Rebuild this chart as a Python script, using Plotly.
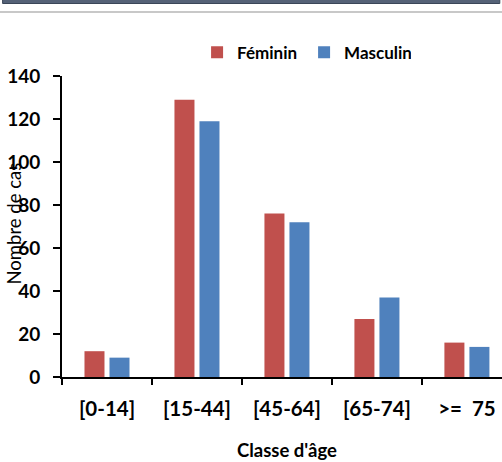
import plotly.graph_objects as go

categories = ["[0-14]", "[15-44]", "[45-64]", "[65-74]", ">=  75"]
feminin = [12, 129, 76, 27, 16]
masculin = [9, 119, 72, 37, 14]
y_ticks = [0, 20, 40, 60, 80, 100, 120, 140]

FONT = "Lato"
fig = go.Figure()
fig.add_trace(go.Bar(name="Féminin", x=categories, y=feminin,
                     marker=dict(color="#C0504D", line=dict(width=0))))
fig.add_trace(go.Bar(name="Masculin", x=categories, y=masculin,
                     marker=dict(color="#4F81BD", line=dict(width=0))))

fig.update_layout(
    width=502, height=462,
    margin=dict(l=62, r=0, t=76, b=85, autoexpand=False),
    paper_bgcolor="white", plot_bgcolor="white",
    barmode="group", bargap=0.444, bargroupgap=0.2,
    font=dict(family=FONT, color="black"),
    showlegend=True,
    legend=dict(orientation="h", x=0.307, y=1.077, xanchor="left", yanchor="middle",
                font=dict(family=FONT, size=17, color="black", weight="bold"),
                itemwidth=30, bgcolor="rgba(0,0,0,0)", traceorder="normal",
                entrywidth=62, entrywidthmode="pixels"),
    xaxis=dict(type="category", range=[-0.5, 4.39], showline=True, linecolor="black",
               linewidth=2, ticks="outside", tickson="boundaries", ticklen=6,
               tickwidth=2, tickcolor="black", showgrid=False, automargin=False,
               ticklabelstandoff=12,
               tickfont=dict(family=FONT, size=20.5, color="black", weight="bold")),
    yaxis=dict(range=[0, 140], tickvals=y_ticks, showline=True, linecolor="black",
               linewidth=2, ticks="outside", ticklen=7, tickwidth=2, tickcolor="black",
               showgrid=False, zeroline=False, automargin=False,
               ticklabelstandoff=9,
               tickfont=dict(family=FONT, size=19, color="black", weight="bold")),
)

# axis titles
fig.add_annotation(text="Classe d'âge", x=2, xref="x", y=0, yref="paper", yshift=-73,
                   yanchor="middle", showarrow=False,
                   font=dict(family=FONT, size=18.5, color="black", weight="bold"))
fig.add_annotation(text="Nombre de cas", x=0, xref="paper", xshift=-48, y=0.51, yref="paper",
                   textangle=-90, showarrow=False, xanchor="center", yanchor="middle",
                   font=dict(family=FONT, size=18.5, color="black"))

# top decorations (cropped frame above chart)
fig.add_shape(type="rect", xref="paper", yref="paper", x0=-0.135, x1=0.995,
              y0=(377 - 3.5) / 301, y1=(377 + 2) / 301,
              fillcolor="#556277", line=dict(color="#3a4658", width=1), layer="above")
fig.add_shape(type="rect", xref="paper", yref="paper", x0=-0.15, x1=1.0,
              y0=(377 - 13) / 301, y1=(377 - 11) / 301,
              fillcolor="#c8c8c8", line=dict(width=0), layer="above")

fig.write_html("out.html", config={"displayModeBar": False},
               post_script="document.body.style.margin='0';document.body.style.overflow='hidden';")
